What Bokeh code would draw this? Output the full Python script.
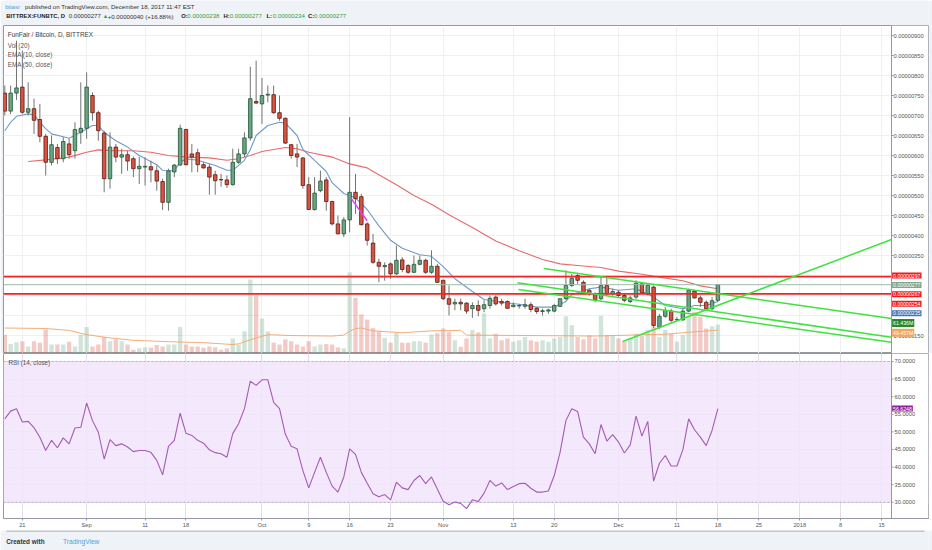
import numpy as np
import pandas as pd
from bokeh.plotting import figure
from bokeh.models import Range1d, FixedTicker, Grid, Label, Span, BoxAnnotation
from bokeh.layouts import column
from bokeh.embed import file_html
from bokeh.resources import INLINE

# ---------------- data (prices in satoshi = 1e-8 BTC, volume in millions) ----------------
start_date = "2017-08-18"
opens = [756,711,756,771,708,717,690,648,583,620,
         592,629,612,658,668,750,707,656,542,621,
         596,602,592,567,571,572,562,535,483,559,
         576,665,604,607,577,571,552,540,539,527,
         583,604,644,735,729,751,752,707,693,627,
         604,594,527,465,512,539,485,429,404,439,
         508,497,429,381,333,322,329,304,339,325,
         308,328,338,308,323,288,242,229,233,231,
         217,225,217,225,246,235,235,222,224,223,
         227,218,210,211,211,223,242,275,300,283,
         263,254,242,275,254,258,250,235,246,279,
         254,271,171,198,211,189,189,211,261,244,
         233,217,238]
highs = [775,775,887,862,783,742,729,654,650,629,
         646,642,683,783,808,758,712,662,658,629,
         617,612,597,597,596,587,575,542,567,579,
         677,667,629,617,583,579,562,554,550,617,
         617,658,822,837,794,775,775,750,695,629,
         629,596,546,546,562,546,487,450,446,696,
         554,504,433,404,342,333,333,375,346,329,
         350,350,342,363,329,290,275,242,242,233,
         233,238,238,250,250,242,238,233,229,242,
         233,221,217,217,229,242,313,304,304,288,
         267,258,296,296,267,263,254,250,288,283,
         279,275,204,221,217,196,217,267,264,250,
         238,246,277]
lows = [700,703,739,704,700,654,633,550,575,579,
        583,592,592,629,642,687,637,508,517,583,
        554,562,546,529,525,533,512,464,462,546,
        575,575,558,558,567,502,502,522,519,525,
        579,596,637,729,679,733,704,687,629,592,
        571,517,464,462,508,462,425,404,396,408,
        454,425,375,329,283,287,292,302,308,304,
        306,325,304,304,281,238,200,213,213,204,
        194,198,208,217,225,225,218,221,217,217,
        208,204,200,204,208,221,238,271,279,254,
        250,233,238,250,250,246,233,231,242,254,
        250,169,167,194,183,186,187,208,242,221,
        216,212,234]
closes = [711,756,769,708,717,688,648,583,627,592,
          635,602,665,668,771,707,662,542,621,596,
          602,586,567,573,573,564,536,483,561,576,
          668,577,596,577,569,546,537,539,527,583,
          604,644,742,731,750,753,707,693,631,600,
          596,525,465,506,536,485,429,404,439,508,
          492,427,388,333,323,325,304,338,315,308,
          328,338,308,323,283,242,228,233,229,211,
          225,213,227,243,229,231,218,226,225,227,
          215,210,212,214,225,242,275,293,288,258,
          254,239,275,254,260,250,238,244,281,256,
          275,175,198,213,188,190,211,263,244,233,
          217,237,277]
volumes = [40,20,24,26,15,26,23,51,19,19,
           19,25,15,40,56,15,19,35,26,30,
           26,19,8,11,13,12,18,15,19,19,
           56,19,15,15,12,15,13,8,11,32,
           19,47,157,123,74,47,23,19,30,26,
           19,15,26,15,19,20,19,13,11,172,
           118,83,72,54,47,33,23,44,23,23,
           26,26,23,40,43,53,46,28,14,32,
           50,45,85,32,42,28,32,25,28,35,
           28,25,28,25,32,35,79,60,35,30,
           39,32,80,39,39,32,25,32,42,37,
           50,57,35,50,42,25,39,78,88,78,
           53,58,61.436]
rsi_vals = [53.7,55.9,56.6,52.8,53.0,51.2,48.5,44.7,47.6,45.5,
            48.3,46.6,51.1,51.3,58.2,53.2,49.9,42.3,47.8,46.1,
            46.6,45.7,44.4,44.7,44.7,44.2,41.9,37.8,45.9,47.6,
            55.3,49.6,49.0,47.6,46.8,44.9,44.1,43.8,42.8,49.5,
            52.3,56.6,64.4,63.2,64.8,64.8,58.4,56.6,49.3,45.9,
            45.2,39.0,34.1,38.5,42.8,38.5,34.6,32.9,37.2,45.2,
            43.6,38.5,35.4,32.4,31.6,32.2,30.7,35.7,34.1,33.6,
            36.2,37.6,35.3,37.2,33.8,30.3,29.3,30.1,29.7,28.2,
            30.7,30.2,32.6,36.2,34.6,35.5,33.6,34.5,35.3,35.4,
            34.0,32.9,32.9,33.2,37.6,44.2,53.2,56.6,55.8,48.5,
            46.6,43.8,52.1,47.4,49.2,47.1,44.0,46.3,54.5,48.8,
            53.0,36.0,41.1,43.3,40.3,40.3,44.9,53.7,50.6,48.5,
            46.1,50.4,56.6248]
# EMA lines (day number since start, value)
ema10_day = [0,1,2,4,5,6,7,8,10,11,13,15,16,17,19,21,23,26,27,29,30,31,33,36,38,39,41,42,43,45,
             47,48,50,51,53,55,56,58,59,60,62,64,66,68,71,73,75,77,80,82,85,88,91,94,96,97,100,
             102,105,108,111,113,116,118,120,122]
ema10_val = [662,683,698,704,702,683,667,654,647,643,658,675,675,658,637,621,600,577,563,562,583,592,
             588,575,563,563,588,615,650,675,683,681,650,615,588,560,532,505,500,494,465,424,388,368,
             352,348,322,292,260,240,233,228,221,221,235,252,267,271,263,267,246,225,217,225,225,235]
ema50_day = [4,7,11,14,16,19,22,25,28,31,35,38,40,42,44,48,50,52,56,59,62,64,67,70,73,76,80,84,88,92,
             95,98,102,105,109,112,116,119,122]
ema50_val = [585,589,596,608,614,612,612,608,600,596,594,588,592,600,610,620,617,608,596,579,569,552,
             527,500,478,452,420,386,362,340,329,325,320,311,303,296,287,274,267]
volma_day = [0,7,11,14,18,22,28,34,39,40,43,45,49,56,58,59,60,61,63,68,73,78,79,90,101,113,118,122]
volma_val = [54,53,49,40,33,28,25,23,19,20.5,33,40,38,37,39,47,53,54,48,44,48,49,39,38,37,41,46,49.457]
# drawings
hlines = [297, 254]
trend_day = [[105.7, 151.7], [92.2, 151.7], [87.7, 151.7], [87.9, 151.7]]
trend_price = [[135, 390], [317.5, 192.5], [281.75, 145.75], [265, 133.25]]
mag_day = [59.1, 62.0]
mag_price = [496, 437]
tick_dates = ["2017-08-21", "2017-09-01", "2017-09-11", "2017-09-18", "2017-10-01", "2017-10-09",
              "2017-10-16", "2017-10-23", "2017-11-01", "2017-11-13", "2017-11-20", "2017-12-01",
              "2017-12-11", "2017-12-18", "2017-12-25", "2018-01-01", "2018-01-08", "2018-01-15"]
tick_labels = ["21", "Sep", "11", "18", "Oct", "9", "16", "23", "Nov", "13", "20", "Dec",
               "11", "18", "25", "2018", "8", "15"]
price_ticks = list(range(150, 901, 50))
hidden_price_ticks = [200, 250, 300]
rsi_ticks = list(range(30, 71, 5))

# ---------------- derived ----------------
dates = pd.date_range(start_date, periods=len(closes), freq="D")
day = np.asarray((dates - dates[0]).days, dtype=float)
tick_x = [int(v) for v in (pd.to_datetime(tick_dates) - dates[0]).days]
o = np.array(opens, float); c = np.array(closes, float)
inc = c >= o
UP, DN = "#6ba583", "#d75442"
UPB, DNB = "#225437", "#5b1a13"
body_fill = [UP if v else DN for v in inc]
body_line = [UPB if v else DNB for v in inc]

def sat(v):
    return f"{v / 1e8:.8f}"

# ---------------- layout constants (page pixels) ----------------
FONT = "Liberation Sans"
BG = "#eff2f6"
AX = "#9598a1"
GRID = "#eef0f3"
TXT = "#4a4a4a"
W = 932
LB, RB = 3, 4                 # frame spans page x 3 .. 928
FWF = W - LB - RB
PPD = 5.845                   # pixels per day
X0 = (LB - 4.3) / PPD         # day at frame's left edge
X1 = X0 + FWF / PPD
XAX = X0 + (891 - LB) / PPD   # price-scale line at page x 891
HH = 25                       # header height
P_TOP = 925.0; PPX = 2.5; MH = 328
P_BOT = P_TOP - MH * PPX
RH = 165; RPU = 3.52; R_TOP = 72.27
R_BOT = R_TOP - RH / RPU

def mx(px):
    return X0 + (px - LB) / PPD

def my(py):
    return P_TOP - (py - HH) * PPX

def ry(py):
    return R_TOP - (py - HH - MH) / RPU

def lab(fig, x, y, text, color=TXT, bold=False, size="6.3px", bg=None, align="left"):
    kw = dict(x=x, y=y, text=text, text_color=color, text_font=FONT, text_font_size=size,
              text_font_style="bold" if bold else "normal", text_baseline="middle", text_align=align)
    if bg is not None:
        kw.update(background_fill_color=bg, background_fill_alpha=1.0, padding=1)
    fig.add_layout(Label(**kw))

def style_axis(a, standoff):
    a.major_label_text_font = FONT
    a.major_label_text_font_size = "5.7px"
    a.major_label_text_color = "#555"
    a.minor_tick_line_color = None
    a.major_label_standoff = standoff

xr = Range1d(X0, X1)

# ---------------- header ----------------
hdr = figure(width=W, height=HH, x_range=Range1d(0, W), y_range=Range1d(0, HH),
             x_axis_location=None, y_axis_location=None, toolbar_location=None,
             output_backend="svg", min_border=0, outline_line_color=None,
             background_fill_color=BG, border_fill_color=BG)
hdr.grid.visible = False
lab(hdr, 1.7, HH - 6, "bitasr", color="#4aa3df", size="6.1px")
lab(hdr, 21.7, HH - 6, "published on TradingView.com, December 18, 2017 11:47 EST", color="#333", size="6.1px")
GREEN = "#3a9d3a"
chg = closes[-1] - closes[-2]
L2 = HH - 15.7
lab(hdr, 2.7, L2, "BITTREX:FUNBTC, D", color="#222", bold=True, size="5.9px")
lab(hdr, 65.7, L2, sat(closes[-1]), color="#333", size="6.1px")
lab(hdr, 100, L2, "\u25b2", color="#2e9e3e", size="5.5px")
lab(hdr, 105, L2, f"+{sat(chg)} (+{chg / closes[-2] * 100:.2f}%)", color="#333", size="6.1px")
for lx, key, v in [(179, "O:", opens[-1]), (221.7, "H:", highs[-1]), (265, "L:", lows[-1]),
                   (306.7, "C:", closes[-1])]:
    lab(hdr, lx, L2, key, color="#222", bold=True, size="5.9px")
    lab(hdr, lx + 6.2, L2, sat(v), color=GREEN, size="6.1px")

# ---------------- main pane ----------------
main = figure(width=W, frame_height=MH, x_range=xr, y_range=Range1d(P_BOT, P_TOP),
              x_axis_location=None, y_axis_location="right", toolbar_location=None,
              output_backend="svg", min_border_left=LB, min_border_right=RB,
              min_border_top=0, min_border_bottom=0, outline_line_color=AX,
              background_fill_color="white", border_fill_color=BG)
main.xgrid.visible = False
main.add_layout(Grid(dimension=0, ticker=FixedTicker(ticks=tick_x), grid_line_color=GRID))
main.ygrid.ticker = FixedTicker(ticks=price_ticks)
main.ygrid.grid_line_color = GRID
ya = main.yaxis[0]
ya.ticker = FixedTicker(ticks=price_ticks)
ya.major_label_overrides = {t: ("" if t in hidden_price_ticks else sat(t)) for t in price_ticks}
ya.axis_line_color = None
ya.major_tick_line_color = None
ya.major_tick_out = 0
ya.major_tick_in = 0
style_axis(ya, -35)

main.extra_y_ranges = {"vol": Range1d(0, MH * 2.12)}
main.vbar(x=day, width=0.75, top=volumes, bottom=0, fill_color=body_fill, fill_alpha=0.3,
          line_color=None, y_range_name="vol")
main.line(volma_day, volma_val, line_color="#f2a46c", line_width=1, line_alpha=0.9, y_range_name="vol")

main.line(ema50_day, ema50_val, line_color="#e96a6a", line_width=1.1)
main.line(ema10_day, ema10_val, line_color="#6f9bc8", line_width=1.1)

main.segment(x0=day, y0=highs, x1=day, y1=lows, line_color="#737375", line_width=1)
main.vbar(x=day, width=0.6, top=np.maximum(o, c), bottom=np.minimum(o, c),
          fill_color=body_fill, line_color=body_line, line_width=0.8)

main.segment(x0=[X0], y0=[closes[-1]], x1=[XAX], y1=[closes[-1]], line_color="#9fb8a8", line_width=1)
main.segment(x0=[X0] * len(hlines), y0=hlines, x1=[XAX] * len(hlines), y1=hlines,
             line_color="#f02525", line_width=1.7)
main.multi_line(xs=trend_day, ys=trend_price, line_color="#3fe23f", line_width=1.5)
main.line(mag_day, mag_price, line_color="#e040fb", line_width=1.5)

# price-scale strip inside the frame's right edge
main.quad(left=[XAX], right=[X1], bottom=[P_BOT], top=[P_TOP], fill_color="white", line_color=None)
main.segment(x0=[XAX] * len(price_ticks), y0=price_ticks, x1=[XAX + 2 / PPD] * len(price_ticks),
             y1=price_ticks, line_color=AX, line_width=1)
main.add_layout(Span(location=XAX, dimension="height", line_color=AX, line_width=1))

lab(main, mx(7.3), my(34.4), "FunFair / Bitcoin, D, BITTREX", color="#444", size="6.4px")
lab(main, mx(7.3), my(44.7), "Vol (20)", color="#555", size="6.3px")
lab(main, mx(7.3), my(54.3), "EMA (10, close)", color="#555", size="6.3px")
lab(main, mx(7.3), my(64.0), "EMA (50, close)", color="#555", size="6.3px")

BX = XAX + 0.6 / PPD
boxes = [
    (sat(hlines[0]), "#f21b1b", 275.0),
    (sat(closes[-1]), "#7fa68f", 284.4),
    (sat(ema50_val[-1]), "#f21b1b", 293.8),
    (sat(hlines[1]), "#f21b1b", 303.3),
    (sat(ema10_val[-1]), "#4677b3", 312.8),
    (f"{volumes[-1]:.3f}M", "#23882e", 322.4),
    (f"{volma_val[-1]:.3f}M", "#f4a45e", 332.2),
]
for t, col, py in boxes:
    lab(main, BX, my(py), t, color="white", size="5.2px", bg=col)

# ---------------- RSI pane ----------------
rsi = figure(width=W, frame_height=RH, x_range=xr, y_range=Range1d(R_BOT, R_TOP),
             y_axis_location="right", toolbar_location=None, output_backend="svg",
             min_border_left=LB, min_border_right=RB, min_border_top=0, min_border_bottom=0,
             outline_line_color=AX, background_fill_color="white", border_fill_color="white")
rsi.add_layout(BoxAnnotation(bottom=30, top=70, fill_color="#f2e4fb", fill_alpha=0.85,
                             line_color=None, level="underlay"))
xa = rsi.xaxis[0]
xa.ticker = FixedTicker(ticks=tick_x)
xa.major_label_overrides = {t: l for t, l in zip(tick_x, tick_labels)}
xa.axis_line_color = AX
xa.major_tick_line_color = AX
xa.major_tick_out = 2
xa.major_tick_in = 0
style_axis(xa, 1)
ra = rsi.yaxis[0]
ra.ticker = FixedTicker(ticks=rsi_ticks)
ra.major_label_overrides = {t: f"{t:.4f}" for t in rsi_ticks}
ra.axis_line_color = None
ra.major_tick_line_color = None
ra.major_tick_out = 0
ra.major_tick_in = 0
style_axis(ra, -34)
rsi.xgrid.ticker = FixedTicker(ticks=tick_x)
rsi.ygrid.ticker = FixedTicker(ticks=rsi_ticks)
rsi.grid.grid_line_color = "#e6dcee"
rsi.segment(x0=[X0, X0], y0=[70, 30], x1=[XAX, XAX], y1=[70, 30], line_color="#b0b0b8",
            line_dash="2 2", line_width=1)
rsi.line(day, rsi_vals, line_color="#a35cb5", line_width=1.1)
rsi.quad(left=[XAX], right=[X1], bottom=[R_BOT], top=[R_TOP], fill_color="white", line_color=None)
rsi.segment(x0=[XAX] * len(rsi_ticks), y0=rsi_ticks, x1=[XAX + 2 / PPD] * len(rsi_ticks),
            y1=rsi_ticks, line_color=AX, line_width=1)
rsi.add_layout(Span(location=XAX, dimension="height", line_color=AX, line_width=1))
lab(rsi, mx(8), ry(362.3), "RSI (14, close)", color="#555", size="6.3px")
lab(rsi, BX, rsi_vals[-1], f"{rsi_vals[-1]:.4f}", color="white", size="5.2px", bg="#8e1f9e")

# ---------------- footer ----------------
FH = 21
ftr = figure(width=W, height=FH, x_range=Range1d(0, W), y_range=Range1d(0, FH),
             x_axis_location=None, y_axis_location=None, toolbar_location=None,
             output_backend="svg", min_border=0, outline_line_color=None,
             background_fill_color=BG, border_fill_color=BG)
ftr.grid.visible = False
ftr.segment(x0=[LB], y0=[FH - 0.5], x1=[W - RB], y1=[FH - 0.5], line_color=AX, line_width=1)
lab(ftr, 2.7, 10, "Created with", color="#333", bold=True, size="6.4px")
lab(ftr, 60, 10, "TradingView", color="#4aa3df", size="6.6px")

layout = column(hdr, main, rsi, ftr)
open("out.html", "w").write(file_html(layout, INLINE))
